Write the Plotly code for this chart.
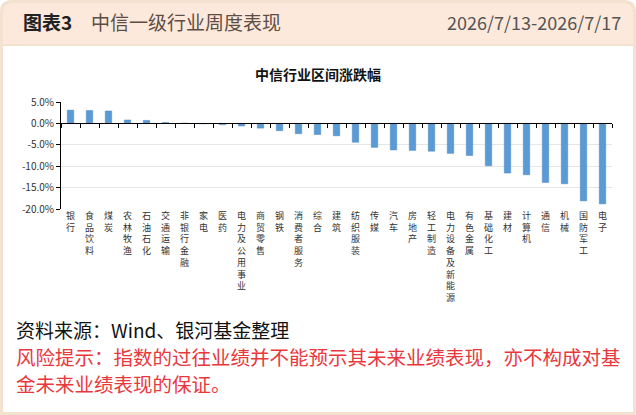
import plotly.graph_objects as go

# 中信一级行业周度涨跌幅（%）
industries = ["银行", "食品饮料", "煤炭", "农林牧渔", "石油石化", "交通运输", "非银行金融",
              "家电", "医药", "电力及公用事业", "商贸零售", "钢铁", "消费者服务", "综合",
              "建筑", "纺织服装", "传媒", "汽车", "房地产", "轻工制造", "电力设备及新能源",
              "有色金属", "基础化工", "建材", "计算机", "通信", "机械", "国防军工", "电子"]
changes = [3.1, 3.0, 2.9, 0.8, 0.7, 0.2, 0.05,
           -0.1, -0.3, -0.6, -1.1, -1.7, -2.4, -2.6,
           -2.9, -4.4, -5.6, -6.2, -6.3, -6.5, -7.0,
           -7.5, -9.9, -11.6, -12.0, -13.8, -14.1, -18.1, -18.8]
y_ticks = [5, 0, -5, -10, -15, -20]

W, H = 636, 415
FONT = "Noto Sans CJK SC"


def px(x):
    return x / W


def py(y):
    return 1 - y / H


# 竖排标签：每个字一行
tick_text = ["<br>".join(name) for name in industries]

y_lo, y_hi = -20, 5
plot_top, plot_bot = 102, 209
dom = [py(plot_bot), py(plot_top)]
zero_pos = dom[0] + (0 - y_lo) / (y_hi - y_lo) * (dom[1] - dom[0])
x_range = [-0.5, len(industries) - 0.5]

fig = go.Figure()
fig.add_trace(go.Bar(x=industries, y=changes,
                     marker=dict(color="#5B9BD5", line=dict(color="#4A86C0", width=0.5)),
                     hoverinfo="x+y"))
# 零轴上的刻度线用一条透明的辅助轨迹挂在 xaxis2 上
fig.add_trace(go.Bar(x=industries, y=changes, xaxis="x2", opacity=0,
                     hoverinfo="skip", showlegend=False))

# 外框 + 表头
r = 12
outer = (f"M {px(0)} {py(r)} Q {px(0)} {py(0)} {px(r)} {py(0)} "
         f"L {px(W - r)} {py(0)} Q {px(W)} {py(0)} {px(W)} {py(r)} "
         f"L {px(W)} {py(H)} L {px(0)} {py(H)} Z")
header = (f"M {px(3)} {py(r + 2)} Q {px(3)} {py(3)} {px(r + 2)} {py(3)} "
          f"L {px(W - r - 2)} {py(3)} Q {px(W - 3)} {py(3)} {px(W - 3)} {py(r + 2)} "
          f"L {px(W - 3)} {py(44)} L {px(3)} {py(44)} Z")
shapes = [
    dict(type="path", path=outer, xref="paper", yref="paper",
         fillcolor="#F4E2D1", line=dict(width=0), layer="below"),
    dict(type="path", path=header, xref="paper", yref="paper",
         fillcolor="#FCE9DB", line=dict(width=0), layer="below"),
    dict(type="rect", xref="paper", yref="paper", x0=px(3), x1=px(W - 3), y0=py(H - 3), y1=py(46),
         fillcolor="white", line=dict(width=0), layer="below"),
]


def note(text, x, y, size, color, xanchor="left"):
    return dict(text=text, x=px(x), y=py(y), xref="paper", yref="paper", align="left",
                xanchor=xanchor, yanchor="middle", showarrow=False, borderpad=0,
                font=dict(family=FONT, size=size, color=color))


annotations = [
    note("<b>图表3</b>", 22, 22, 19, "#222222"),
    note("中信一级行业周度表现", 90, 22, 19, "#5E4D45"),
    note("2026/7/13-2026/7/17", 622, 22, 18, "#555555", xanchor="right"),
    note("<b>中信行业区间涨跌幅</b>", 318, 74, 14, "#111111", xanchor="center"),
    note("资料来源：Wind、银河基金整理", 15, 329.5, 19, "#111111"),
    note("风险提示：指数的过往业绩并不能预示其未来业绩表现，亦不构成对基", 15, 356, 19.5, "#E8383D"),
    note("金未来业绩表现的保证。", 15, 383, 19.5, "#E8383D"),
]

fig.update_layout(
    width=W, height=H, autosize=False,
    margin=dict(l=0, r=0, t=0, b=0, autoexpand=False),
    paper_bgcolor="white", plot_bgcolor="rgba(0,0,0,0)",
    showlegend=False, bargap=0.66, barmode="overlay",
    font=dict(family=FONT, size=10, color="#333333"),
    shapes=shapes, annotations=annotations,
    xaxis=dict(domain=[px(61), px(612)], anchor="y", range=x_range, showline=False, ticks="",
               tickmode="array", tickvals=industries, ticktext=tick_text, automargin=False,
               tickfont=dict(family=FONT, size=9, color="#333333"), showgrid=False),
    xaxis2=dict(domain=[px(61), px(612)], overlaying="x", anchor="free", range=x_range,
                position=zero_pos, showline=True, linecolor="#000000", linewidth=1,
                ticks="outside", tickson="boundaries", ticklen=4, tickcolor="#000000",
                showticklabels=False, showgrid=False, automargin=False),
    yaxis=dict(domain=dom, range=[y_lo, y_hi], tickvals=y_ticks,
               ticktext=[f"{v:.1f}%" for v in y_ticks], automargin=False,
               showline=True, linecolor="#000000", linewidth=1,
               ticks="outside", ticklen=4, tickcolor="#000000",
               showgrid=True, gridcolor="#E6E6E6", zeroline=False,
               tickfont=dict(family=FONT, size=10, color="#333333")),
)

fig.write_html("out.html", config={"displayModeBar": False},
               post_script="document.body.style.margin='0';")
